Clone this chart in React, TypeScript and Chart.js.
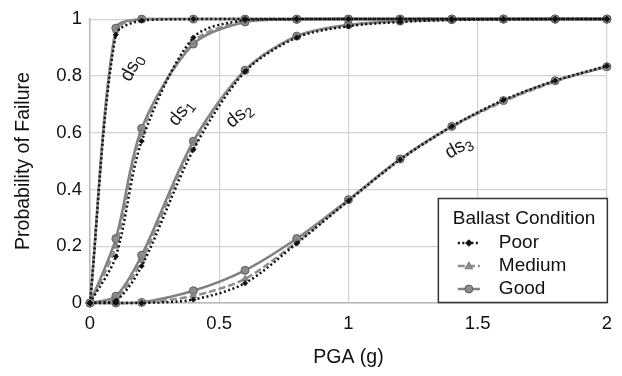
import React, { useEffect, useRef } from "react";
import { Chart, registerables } from "chart.js";
Chart.register(...registerables);

// PGA (g) sample points
const pga = [0, 0.1, 0.2, 0.4, 0.6, 0.8, 1.0, 1.2, 1.4, 1.6, 1.8, 2.0];

// ds0
const ds0Poor = [0, 0.945, 0.995, 1, 1, 1, 1, 1, 1, 1, 1, 1];
const ds0Medium = [0, 0.96, 1, 1, 1, 1, 1, 1, 1, 1, 1, 1];
const ds0Good = [0, 0.968, 1, 1, 1, 1, 1, 1, 1, 1, 1, 1];
// ds1
const ds1Poor = [0, 0.164, 0.57, 0.935, 0.997, 1, 1, 1, 1, 1, 1, 1];
const ds1Medium = [0, 0.2, 0.6, 0.92, 0.994, 1, 1, 1, 1, 1, 1, 1];
const ds1Good = [0, 0.227, 0.615, 0.912, 0.99, 0.999, 1, 1, 1, 1, 1, 1];
// ds2
const ds2Poor = [0, 0.008, 0.13, 0.54, 0.815, 0.935, 0.975, 0.99, 0.997, 0.999, 1, 1];
const ds2Medium = [0, 0.015, 0.15, 0.56, 0.82, 0.94, 0.978, 0.992, 0.997, 1, 1, 1];
const ds2Good = [0, 0.024, 0.168, 0.57, 0.82, 0.94, 0.98, 0.993, 0.998, 1, 1, 1];
// ds3
const ds3Poor = [0, 0, 0, 0.012, 0.07, 0.21, 0.36, 0.505, 0.622, 0.715, 0.783, 0.835];
const ds3Medium = [0, 0, 0.001, 0.025, 0.085, 0.215, 0.36, 0.505, 0.62, 0.71, 0.78, 0.835];
const ds3Good = [0, 0, 0.002, 0.043, 0.115, 0.227, 0.364, 0.507, 0.622, 0.713, 0.783, 0.832];

const conditions = ["Poor", "Medium", "Good"];
const stateSeries = [
  [ds0Poor, ds0Medium, ds0Good],
  [ds1Poor, ds1Medium, ds1Good],
  [ds2Poor, ds2Medium, ds2Good],
  [ds3Poor, ds3Medium, ds3Good],
];
const stateSubs = ["0", "1", "2", "3"];
// label anchor points (data coords) and rotation (deg)
const stateLabelX = [0.16, 0.35, 0.575, 1.425];
const stateLabelY = [0.83, 0.672, 0.662, 0.55];
const stateLabelAngle = [-62, -52, -40, -30];

const xTicks = [0, 0.5, 1, 1.5, 2];
const yTicks = [0, 0.2, 0.4, 0.6, 0.8, 1];

const FONT = "'Liberation Sans', Arial, sans-serif";

const styles: Record<string, any> = {
  Poor: {
    borderColor: "#111111",
    borderDash: [2, 2.5],
    borderWidth: 2.5,
    pointStyle: "rectRot",
    pointRadius: 2.5,
    pointBackgroundColor: "#111111",
    pointBorderColor: "#111111",
    pointBorderWidth: 1,
  },
  Medium: {
    borderColor: "#8e8e8e",
    borderDash: [7, 3],
    borderWidth: 2.5,
    pointStyle: "triangle",
    pointRadius: 3.5,
    pointBackgroundColor: "#8e8e8e",
    pointBorderColor: "#7a7a7a",
    pointBorderWidth: 1,
  },
  Good: {
    borderColor: "#808080",
    borderDash: [],
    borderWidth: 2.5,
    pointStyle: "circle",
    pointRadius: 4,
    pointBackgroundColor: "#8c8c8c",
    pointBorderColor: "#5c5c5c",
    pointBorderWidth: 1,
  },
};

function drawMarker(ctx: CanvasRenderingContext2D, s: any, x: number, y: number) {
  const r = s.pointRadius;
  ctx.save();
  ctx.fillStyle = s.pointBackgroundColor;
  ctx.strokeStyle = s.pointBorderColor;
  ctx.lineWidth = s.pointBorderWidth;
  ctx.beginPath();
  if (s.pointStyle === "circle") {
    ctx.arc(x, y, r, 0, Math.PI * 2);
  } else if (s.pointStyle === "triangle") {
    ctx.moveTo(x, y - r * 1.2);
    ctx.lineTo(x + r * 1.1, y + r * 0.8);
    ctx.lineTo(x - r * 1.1, y + r * 0.8);
    ctx.closePath();
  } else {
    ctx.moveTo(x, y - r * 1.3);
    ctx.lineTo(x + r * 1.3, y);
    ctx.lineTo(x, y + r * 1.3);
    ctx.lineTo(x - r * 1.3, y);
    ctx.closePath();
  }
  ctx.fill();
  ctx.stroke();
  ctx.restore();
}

const overlayPlugin = {
  id: "overlay",
  afterDatasetsDraw(chart: any) {
    const { ctx, chartArea, scales } = chart;
    ctx.save();
    // damage state labels
    ctx.fillStyle = "#1a1a1a";
    for (let i = 0; i < stateSubs.length; i++) {
      const px = scales.x.getPixelForValue(stateLabelX[i]);
      const py = scales.y.getPixelForValue(stateLabelY[i]);
      ctx.save();
      ctx.translate(px, py);
      ctx.rotate((stateLabelAngle[i] * Math.PI) / 180);
      ctx.font = `19px ${FONT}`;
      const w1 = ctx.measureText("ds").width;
      ctx.font = `14px ${FONT}`;
      const w2 = ctx.measureText(stateSubs[i]).width;
      const start = -(w1 + w2) / 2;
      ctx.textBaseline = "alphabetic";
      ctx.textAlign = "left";
      ctx.font = `19px ${FONT}`;
      ctx.fillText("ds", start, 6);
      ctx.font = `14px ${FONT}`;
      ctx.fillText(stateSubs[i], start + w1, 10);
      ctx.restore();
    }

    // legend box
    const right = chartArea.right + 1;
    const bottom = chartArea.bottom;
    const left = right - 170;
    const top = bottom - 105;
    ctx.fillStyle = "#ffffff";
    ctx.fillRect(left, top, right - left, bottom - top);
    ctx.strokeStyle = "#333333";
    ctx.lineWidth = 1.5;
    ctx.strokeRect(left + 0.5, top + 0.5, right - left - 1, bottom - top - 1);
    ctx.fillStyle = "#111111";
    ctx.font = `19px ${FONT}`;
    ctx.textBaseline = "middle";
    ctx.textAlign = "left";
    ctx.fillText("Ballast Condition", left + 15, top + 21);
    const rows = [top + 45, top + 68, top + 91];
    conditions.forEach((c, i) => {
      const s = styles[c];
      const y = rows[i];
      ctx.save();
      ctx.strokeStyle = s.borderColor;
      ctx.lineWidth = s.borderWidth;
      ctx.setLineDash(s.borderDash);
      ctx.beginPath();
      ctx.moveTo(left + 20, y);
      ctx.lineTo(left + 42, y);
      ctx.stroke();
      ctx.restore();
      drawMarker(ctx, s, left + 31, y);
      ctx.fillStyle = "#111111";
      ctx.font = `19px ${FONT}`;
      ctx.fillText(c, left + 61, y);
    });
    ctx.restore();
  },
};

export default function App() {
  const ref = useRef<HTMLCanvasElement | null>(null);
  useEffect(() => {
    if (!ref.current) return;
    const datasets: any[] = [];
    stateSeries.forEach((group, si) => {
      group.forEach((vals, ci) => {
        const c = conditions[ci];
        datasets.push({
          label: `ds${stateSubs[si]} ${c}`,
          data: pga.map((x, k) => ({ x, y: vals[k] })),
          ...styles[c],
          fill: false,
          tension: 0.3,
          clip: false,
          order: ci,
        });
      });
    });
    const chart = new Chart(ref.current, {
      type: "line",
      data: { datasets },
      options: {
        animation: false,
        responsive: true,
        maintainAspectRatio: false,
        layout: { padding: { top: 17, right: 10, left: 0, bottom: 0 } },
        plugins: { legend: { display: false }, tooltip: { enabled: false } },
        scales: {
          x: {
            type: "linear",
            min: 0,
            max: 2,
            afterBuildTicks: (s: any) => {
              s.ticks = xTicks.map((v) => ({ value: v }));
            },
            afterFit: (s: any) => {
              s.height = 73;
            },
            grid: { color: "#d2d2d2", lineWidth: 1.2, drawTicks: false },
            border: { color: "#b8b8b8", width: 1.5 },
            ticks: {
              color: "#111111",
              font: { family: FONT, size: 18.5 },
              padding: 10,
              callback: (v: any) => String(v),
            },
            title: {
              display: true,
              text: "PGA (g)",
              color: "#111111",
              font: { family: FONT, size: 19.5 },
              padding: { top: 0, bottom: 7 },
            },
          },
          y: {
            type: "linear",
            min: 0,
            max: 1,
            afterBuildTicks: (s: any) => {
              s.ticks = yTicks.map((v) => ({ value: v }));
            },
            afterFit: (s: any) => {
              s.width = 90;
            },
            grid: { color: "#d2d2d2", lineWidth: 1.2, drawTicks: false },
            border: { color: "#b8b8b8", width: 1.5 },
            ticks: {
              color: "#111111",
              font: { family: FONT, size: 18.5 },
              padding: 8,
              callback: (v: any) => String(v),
            },
            title: {
              display: true,
              text: "Probability of Failure",
              color: "#111111",
              font: { family: FONT, size: 19.5 },
              padding: { top: 12, bottom: 0 },
            },
          },
        },
      },
      plugins: [overlayPlugin],
    });
    return () => chart.destroy();
  }, []);
  return (
    <div style={{ position: "fixed", left: 0, top: 0, width: 622, height: 376, background: "#fff" }}>
      <canvas ref={ref} />
    </div>
  );
}
